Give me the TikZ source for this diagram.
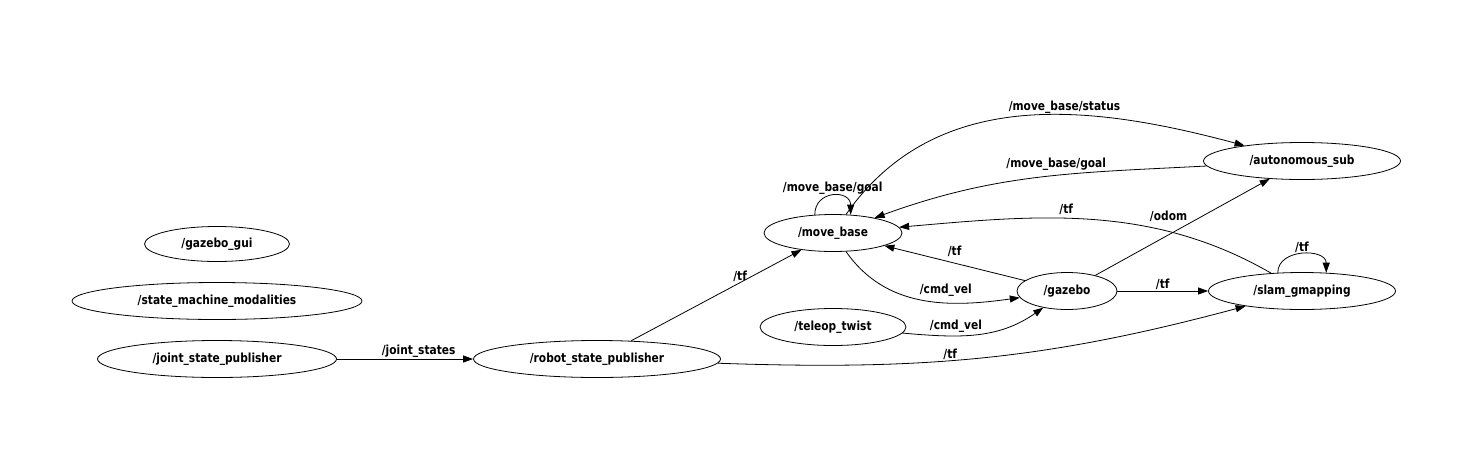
\documentclass[tikz,border=0pt]{standalone}
\usepackage{fontspec}
\usepackage{tikz}
\usetikzlibrary{positioning,shapes.geometric,arrows.meta}
\newfontfamily\rosfamily{DejaVu Sans}[FakeStretch=0.85]
\newcommand\rosfont{\rosfamily\bfseries\fontsize{12.5}{14}\selectfont}

\begin{document}
\begin{tikzpicture}[x=1pt, y=1pt, on grid, every node/.style={font=\rosfont},
  rosnode/.style={draw, ellipse, line width=0.8pt, inner sep=0pt, minimum height=37pt},
  topic/.style={draw, line width=0.8pt, -{Triangle[length=10pt,width=7pt]}},
  lbl/.style={inner sep=1pt}]
\useasboundingbox (0,0) rectangle (1464,-472);
\node[rosnode, minimum width=239pt] (jsp) at (217,-359) {/joint\_state\_publisher};
\node[rosnode, minimum width=290pt, above=58pt of jsp] (smm) {/state\_machine\_modalities};
\node[rosnode, minimum width=145pt, minimum height=35pt, above=57pt of smm] (gui) {/gazebo\_gui};
\node[rosnode, minimum width=247pt, right=380pt of jsp] (rsp) {/robot\_state\_publisher};
\node[rosnode, minimum width=138pt, above right=126pt and 236pt of rsp] (mb) {/move\_base};
\node[rosnode, minimum width=146pt, below=94pt of mb] (tt) {/teleop\_twist};
\node[rosnode, minimum width=100pt, below right=58pt and 234pt of mb] (gz) {/gazebo};
\node[rosnode, minimum width=187pt, right=235pt of gz] (slam) {/slam\_gmapping};
\node[rosnode, minimum width=197pt, above=130pt of slam] (auto) {/autonomous\_sub};
\draw[topic] (jsp) -- node[lbl, pos=0.6, above] {/joint\_states} (rsp);
\draw[topic] (rsp) -- node[lbl, pos=0.64, above] {/tf} (mb);
\draw[topic] (rsp) to[out=-2, in=195] node[lbl, pos=0.43, above] {/tf} (slam);
\draw[topic] (mb) to[out=-55, in=188] node[lbl, pos=0.63, above, yshift=5pt] {/cmd\_vel} (gz);
\draw[topic] (tt) to[out=-5, in=215] node[lbl, pos=0.35, above, yshift=2pt] {/cmd\_vel} (gz);
\draw[topic] (gz) -- node[lbl, above=5pt] {/tf} (mb);
\draw[topic] (gz) -- node[lbl, above] {/tf} (slam);
\draw[topic] (gz) -- node[lbl, pos=0.42, above, yshift=12pt] {/odom} (auto);
\draw[topic] (slam) to[out=150, in=5, looseness=0.95] node[lbl, pos=0.57, above, yshift=2pt] {/tf} (mb);
\draw[topic] (slam.143) to[out=90, in=90, looseness=1.3] node[lbl, above] {/tf} (slam.37);
\draw[topic] (auto) to[out=183, in=20] node[lbl, pos=0.44, above, yshift=4pt] {/move\_base/goal} (mb);
\draw[topic] (mb) to[out=55, in=165] node[lbl, pos=0.6, above] {/move\_base/status} (auto);
\draw[topic] (mb.135) to[out=90, in=90, looseness=1.8] node[lbl, above] {/move\_base/goal} (mb.46);
\end{tikzpicture}
\end{document}
